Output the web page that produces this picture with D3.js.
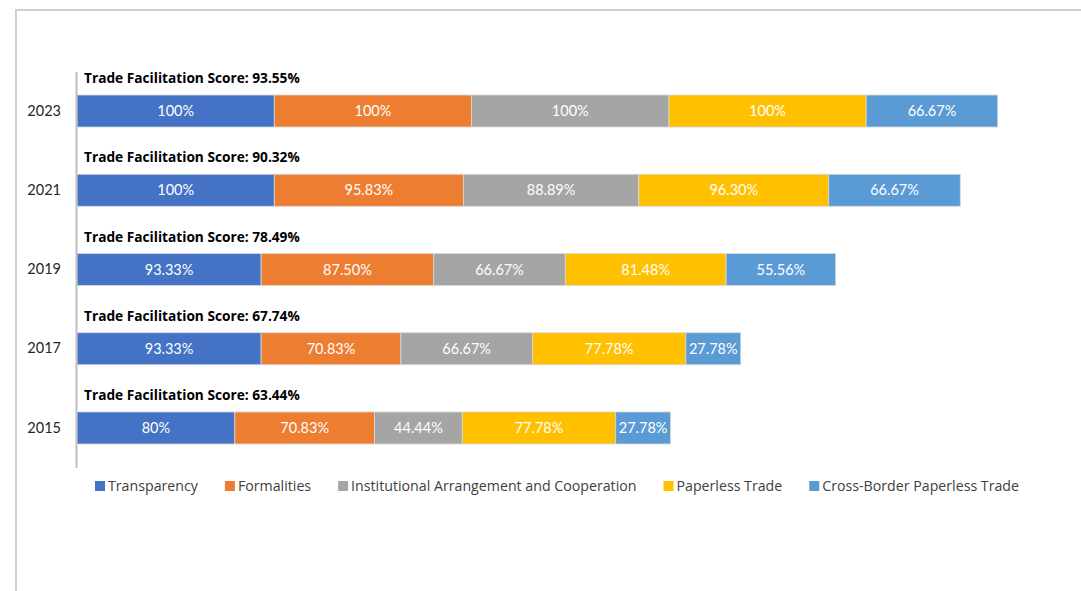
<!DOCTYPE html>
<html><head><meta charset="utf-8">
<script src="https://cdn.jsdelivr.net/npm/d3@7"></script>
<style>
html,body{margin:0;padding:0;background:#fff;}
svg{display:block;font-family:Lato, "Open Sans", sans-serif;}
</style></head>
<body>
<svg id="chart" width="1081" height="591"></svg>
<script>
const years = ["2023", "2021", "2019", "2017", "2015"];
const scores = ["93.55%", "90.32%", "78.49%", "67.74%", "63.44%"];
const seriesNames = ["Transparency", "Formalities", "Institutional Arrangement and Cooperation", "Paperless Trade", "Cross-Border Paperless Trade"];
const seriesColors = ["#4472C4", "#ED7D31", "#A5A5A5", "#FFC000", "#5B9BD5"];
const transparency = [100, 100, 93.33, 93.33, 80];
const formalities = [100, 95.83, 87.50, 70.83, 70.83];
const institutional = [100, 88.89, 66.67, 66.67, 44.44];
const paperless = [100, 96.30, 81.48, 77.78, 77.78];
const crossBorder = [66.67, 66.67, 55.56, 27.78, 27.78];
const labelText = [
  ["100%", "100%", "93.33%", "93.33%", "80%"],
  ["100%", "95.83%", "87.50%", "70.83%", "70.83%"],
  ["100%", "88.89%", "66.67%", "66.67%", "44.44%"],
  ["100%", "96.30%", "81.48%", "77.78%", "77.78%"],
  ["66.67%", "66.67%", "55.56%", "27.78%", "27.78%"]
];

const seriesValues = [transparency, formalities, institutional, paperless, crossBorder];
const rows = years.map((y, i) => {
  const r = {year: y};
  seriesNames.forEach((s, j) => r[s] = seriesValues[j][i]);
  return r;
});
const stacked = d3.stack().keys(seriesNames)(rows);

const svg = d3.select("#chart");

svg.append("path")
  .attr("d", "M16,591 L16,10 L1081,10")
  .attr("fill", "none").attr("stroke", "#d0d0d0").attr("stroke-width", 2);

const x = d3.scaleLinear().domain([0, 500]).range([77, 1063.5]);
const y = d3.scaleBand().domain(years).range([71.4, 467.6]).paddingInner(0.596).paddingOuter(0.298);

const g = svg.append("g");
stacked.forEach((layer, j) => {
  g.selectAll(null).data(layer).enter().append("rect")
    .attr("x", d => x(d[0]))
    .attr("y", d => y(d.data.year))
    .attr("width", d => x(d[1]) - x(d[0]))
    .attr("height", y.bandwidth())
    .attr("fill", seriesColors[j])
    .attr("stroke", "#d9d9d9").attr("stroke-width", 0.8);
  g.selectAll(null).data(layer).enter().append("text")
    .attr("x", d => (x(d[0]) + x(d[1])) / 2)
    .attr("y", d => y(d.data.year) + y.bandwidth() / 2 + 5)
    .attr("text-anchor", "middle")
    .attr("fill", "#ffffff")
    .attr("font-size", 14.5)
    .text((d, i) => labelText[j][i]);
});

const yAxis = d3.axisLeft(y).tickSize(0).tickPadding(15);
const ax = svg.append("g").attr("transform", "translate(76,0)").call(yAxis);
ax.select(".domain").attr("stroke", "#bfbfbf").attr("stroke-width", 2);
ax.selectAll("text").attr("font-size", 14.5).attr("fill", "#262626").attr("font-family", "Lato, sans-serif");

svg.selectAll(".score").data(years).enter().append("text")
  .attr("x", 84)
  .attr("y", (d) => y(d) + y.bandwidth() / 2 - 28)
  .attr("font-family", "'Open Sans', sans-serif")
  .attr("font-size", 13.7).attr("font-weight", "bold").attr("fill", "#000")
  .text((d, i) => "Trade Facilitation Score: " + scores[i]);

const leg = svg.append("g");
let lx = 95;
seriesNames.forEach((s, j) => {
  leg.append("rect").attr("x", lx).attr("y", 481).attr("width", 10).attr("height", 10).attr("fill", seriesColors[j]);
  const t = leg.append("text").attr("x", lx + 13).attr("y", 491)
    .attr("font-family", "'Open Sans', sans-serif")
    .attr("font-size", 14.2).attr("fill", "#404040").text(s);
  lx += 13 + t.node().getComputedTextLength() + 27;
});
</script>
</body></html>
